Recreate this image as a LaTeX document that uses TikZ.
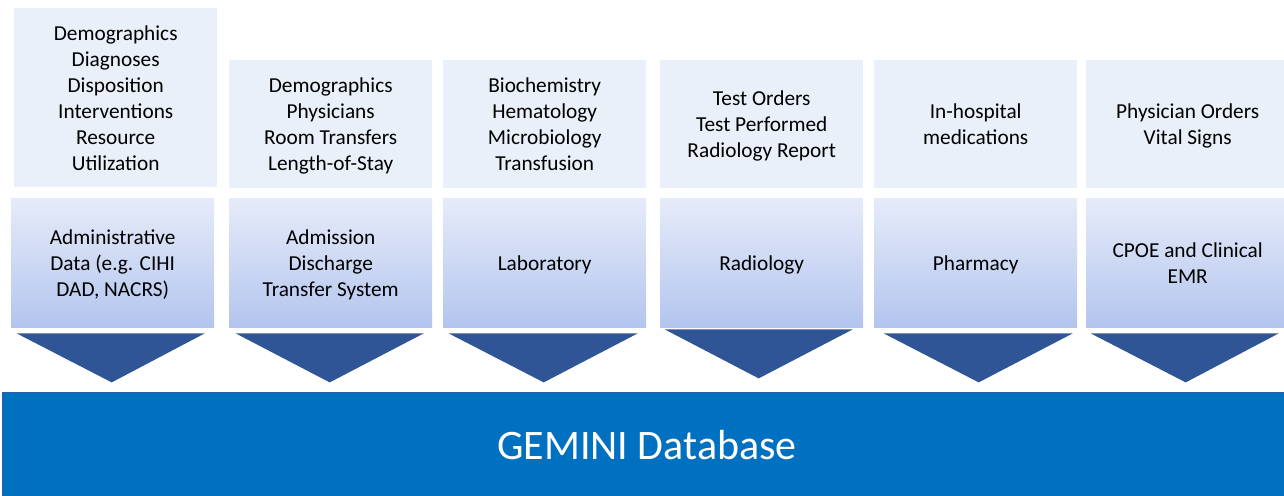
\documentclass[tikz,border=0pt]{standalone}
\usepackage{fontspec}
\setmainfont{Carlito}
\definecolor{srcfill}{HTML}{E9F0F9}
\definecolor{systop}{HTML}{E6EBF9}
\definecolor{sysbot}{HTML}{B3C5EE}
\definecolor{funnelblue}{HTML}{2F5597}
\definecolor{dbblue}{HTML}{0070C0}
\definecolor{dbedge}{HTML}{2E5C9E}
\tikzset{
  src/.style={fill=srcfill, minimum width=203pt, anchor=north west, align=center,
    inner sep=0pt, text depth=0pt, font=\fontsize{21.3}{26}\selectfont},
  sys/.style={top color=systop, bottom color=sysbot, minimum width=203pt, minimum height=129pt,
    anchor=north west, align=center, inner sep=0pt, text depth=0pt, font=\fontsize{21.3}{26}\selectfont},
  funnel/.style={fill=funnelblue}
}
\begin{document}
\begin{tikzpicture}[x=1pt, y=1pt]
                \useasboundingbox (0, 0) rectangle (1284, 495);

                % data elements
                \node[src, minimum height=179pt] (s1) at (14, 487) {Demographics\\Diagnoses\\Disposition\\Interventions\\Resource\\Utilization};
                \node[src, minimum height=128pt] (s2) at (229, 435) {Demographics\\Physicians\\Room Transfers\\Length-of-Stay};
                \node[src, minimum height=128pt] (s3) at (443, 435) {Biochemistry\\Hematology\\Microbiology\\Transfusion};
                \node[src, minimum height=128pt] (s4) at (660, 435) {Test Orders\\Test Performed\\Radiology Report};
                \node[src, minimum height=128pt] (s5) at (874, 435) {In-hospital\\medications};
                \node[src, minimum height=128pt] (s6) at (1086, 435) {Physician Orders\\Vital Signs};

                % source systems
                \node[sys] (m1) at (11, 297) {Administrative\\Data (e.g. CIHI\\DAD, NACRS)};
                \node[sys] (m2) at (229, 297) {Admission\\Discharge\\Transfer System};
                \node[sys] (m3) at (443, 297) {Laboratory};
                \node[sys] (m4) at (660, 297) {Radiology};
                \node[sys] (m5) at (874, 297) {Pharmacy};
                \node[sys] (m6) at (1086, 297) {CPOE and Clinical\\EMR};

                % funnels
                \fill[funnel] ([xshift=-96pt, yshift=-6pt]m1.south) -- ([xshift=92pt, yshift=-6pt]m1.south) -- ([xshift=-1pt, yshift=-55pt]m1.south) -- cycle;
                \fill[funnel] ([xshift=-95pt, yshift=-6pt]m2.south) -- ([xshift=93pt, yshift=-6pt]m2.south) -- ([xshift=-1pt, yshift=-55pt]m2.south) -- cycle;
                \fill[funnel] ([xshift=-96pt, yshift=-6pt]m3.south) -- ([xshift=93pt, yshift=-6pt]m3.south) -- ([xshift=-1pt, yshift=-55pt]m3.south) -- cycle;
                \fill[funnel] ([xshift=-97pt, yshift=-2pt]m4.south) -- ([xshift=91pt, yshift=-2pt]m4.south) -- ([xshift=-3pt, yshift=-51pt]m4.south) -- cycle;
                \fill[funnel] ([xshift=-92pt, yshift=-6pt]m5.south) -- ([xshift=97pt, yshift=-6pt]m5.south) -- ([xshift=3pt, yshift=-55pt]m5.south) -- cycle;
                \fill[funnel] ([xshift=-97pt, yshift=-6pt]m6.south) -- ([xshift=91pt, yshift=-6pt]m6.south) -- ([xshift=-2pt, yshift=-55pt]m6.south) -- cycle;

                % database
                \node[fill=dbblue, draw=dbedge, line width=1.5pt, minimum width=1290pt, minimum height=106pt,
                  anchor=north west] (db) at (1.5, 103) {};
                \node[text=white, font=\fontsize{42}{50}\selectfont] (dbtext) at (647, 50) {GEMINI Database};
            \end{tikzpicture}
\end{document}
